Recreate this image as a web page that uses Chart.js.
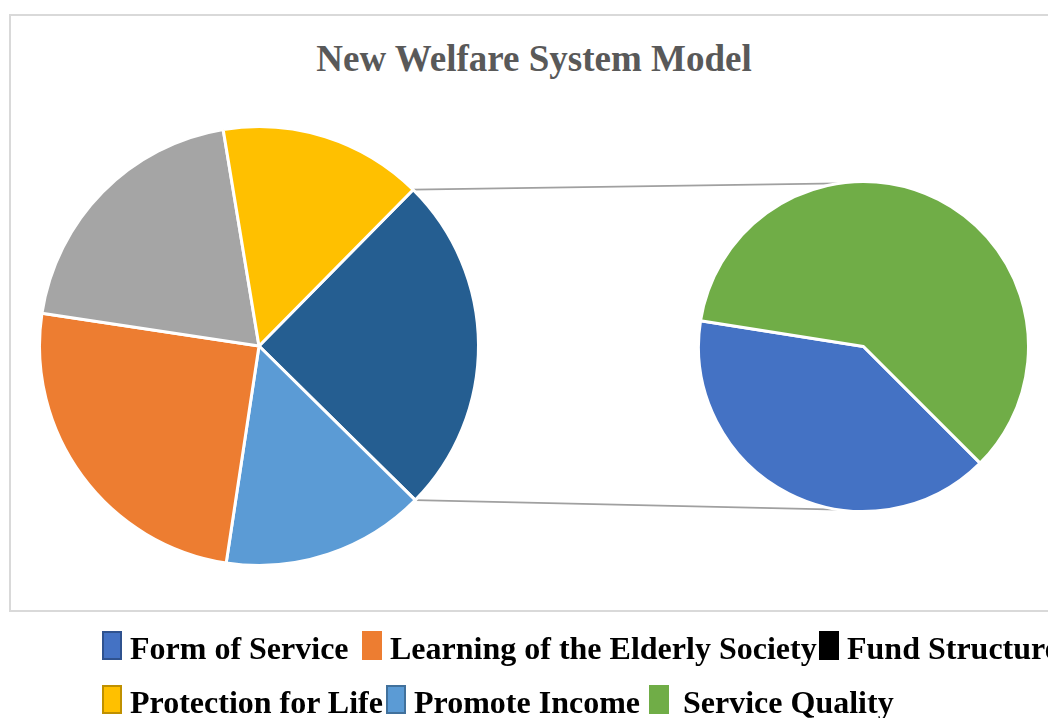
<!DOCTYPE html>
<html>
<head>
<meta charset="utf-8">
<script src="https://cdn.jsdelivr.net/npm/chart.js@4/dist/chart.umd.min.js"></script>
<style>
  body { margin: 0; background: #fff; }
  #wrap { position: relative; width: 1048px; height: 718px; overflow: hidden; font-family: "Liberation Serif", "Times New Roman", serif; }
  #frame { position: absolute; left: 9px; top: 14px; width: 1100px; height: 594px; border: 2px solid #d9d9d9; }
  #title { position: absolute; left: 0; top: 37px; width: 1068px; text-align: center; font-size: 37px; font-weight: bold; color: #595959; }
  #mainBox { position: absolute; left: 36px; top: 123px; width: 446px; height: 446px; }
  #subBox { position: absolute; left: 695px; top: 178px; width: 337px; height: 337px; }
  #lines { position: absolute; left: 0; top: 0; }
  #legend { position: absolute; left: 0; top: 0; font-size: 32px; font-weight: bold; color: #000; }
  .item { position: absolute; display: flex; align-items: center; white-space: nowrap; height: 40px; }
  .item .txt { position: relative; top: 3px; }
  .mark { width: 20px; height: 29px; margin-right: 8px; box-sizing: border-box; border: 2px solid; }
  .r0 { top: 625px; }
  .r1 { top: 679px; }
  .r0.c0 { left: 102px; } .r0.c1 { left: 362px; } .r0.c2 { left: 819px; }
  .r1.c0 { left: 102px; } .r1.c1 { left: 386px; } .r1.c2 { left: 649px; }
  .r1.c2 .mark { margin-right: 14px; }
</style>
</head>
<body>
<div id="wrap">
  <div id="frame"></div>
  <div id="title">New Welfare System Model</div>
  <canvas id="lines" width="1048" height="718"></canvas>
  <div id="mainBox"><canvas id="mainPie"></canvas></div>
  <div id="subBox"><canvas id="subPie"></canvas></div>
  <div id="legend"></div>
</div>
<script>
// secondary pie (split out of the "Other" slice)
const subLabels = ['Form of Service', 'Service Quality'];
const subValues = [10, 15];
const subColors = ['#4472c4', '#70ad47'];

// main pie, first slice is the combined one
const mainLabels = ['Other', 'Promote Income', 'Learning of the Elderly Society', 'Fund Structure', 'Protection for Life'];
const mainValues = [subValues[0] + subValues[1], 15, 25, 20, 15];
const mainColors = ['#255e91', '#5b9bd5', '#ed7d31', '#a5a5a5', '#ffc000'];

// legend as shown under the chart
const legendRows = [
  ['Form of Service', 'Learning of the Elderly Society', 'Fund Structure'],
  ['Protection for Life', 'Promote Income', 'Service Quality']
];
const legendColors = {
  'Form of Service': ['#4472c4', '#2f528f'],
  'Learning of the Elderly Society': ['#ed7d31', '#ed7d31'],
  'Fund Structure': ['#000000', '#000000'],
  'Protection for Life': ['#ffc000', '#bf9000'],
  'Promote Income': ['#5b9bd5', '#41719c'],
  'Service Quality': ['#70ad47', '#70ad47']
};

const pieOpts = (rot) => ({
  responsive: true,
  maintainAspectRatio: true,
  animation: false,
  rotation: rot,
  layout: { padding: 2 },
  plugins: { legend: { display: false }, tooltip: { enabled: false } }
});

const mainChart = new Chart(document.getElementById('mainPie'), {
  type: 'pie',
  data: {
    labels: mainLabels,
    datasets: [{ data: mainValues, backgroundColor: mainColors, borderColor: '#fff', borderWidth: 3 }]
  },
  options: pieOpts(44.6)
});

const subChart = new Chart(document.getElementById('subPie'), {
  type: 'pie',
  data: {
    labels: subLabels,
    datasets: [{ data: subValues, backgroundColor: subColors, borderColor: '#fff', borderWidth: 3 }]
  },
  options: pieOpts(135)
});

// connector lines between the two pies
function drawLines() {
  const ctx = document.getElementById('lines').getContext('2d');
  const mb = document.getElementById('mainBox');
  const sb = document.getElementById('subBox');
  const a = mainChart.getDatasetMeta(0).data[0];
  const s = subChart.getDatasetMeta(0).data[0];
  const mx = mb.offsetLeft + a.x, my = mb.offsetTop + a.y;
  const sx = sb.offsetLeft + s.x, sy = sb.offsetTop + s.y;
  const r = a.outerRadius, sr = s.outerRadius;
  const off = 8.6 * Math.PI / 180;
  const p1 = [mx + r * Math.cos(a.startAngle), my + r * Math.sin(a.startAngle)];
  const p2 = [mx + r * Math.cos(a.endAngle), my + r * Math.sin(a.endAngle)];
  const q1 = [sx + sr * Math.cos(-Math.PI / 2 - off), sy + sr * Math.sin(-Math.PI / 2 - off)];
  const q2 = [sx + sr * Math.cos(Math.PI / 2 + off), sy + sr * Math.sin(Math.PI / 2 + off)];
  ctx.strokeStyle = '#a0a0a0';
  ctx.lineWidth = 1.8;
  ctx.beginPath();
  ctx.moveTo(p1[0], p1[1]); ctx.lineTo(q1[0], q1[1]);
  ctx.moveTo(p2[0], p2[1]); ctx.lineTo(q2[0], q2[1]);
  ctx.stroke();
}
drawLines();

// legend
const leg = document.getElementById('legend');
legendRows.forEach((row, ri) => {
  row.forEach((name, ci) => {
    const it = document.createElement('div');
    it.className = 'item r' + ri + ' c' + ci;
    const m = document.createElement('span');
    m.className = 'mark';
    m.style.background = legendColors[name][0];
    m.style.borderColor = legendColors[name][1];
    const t = document.createElement('span');
    t.className = 'txt';
    t.textContent = name;
    it.appendChild(m);
    it.appendChild(t);
    leg.appendChild(it);
  });
});
</script>
</body>
</html>
